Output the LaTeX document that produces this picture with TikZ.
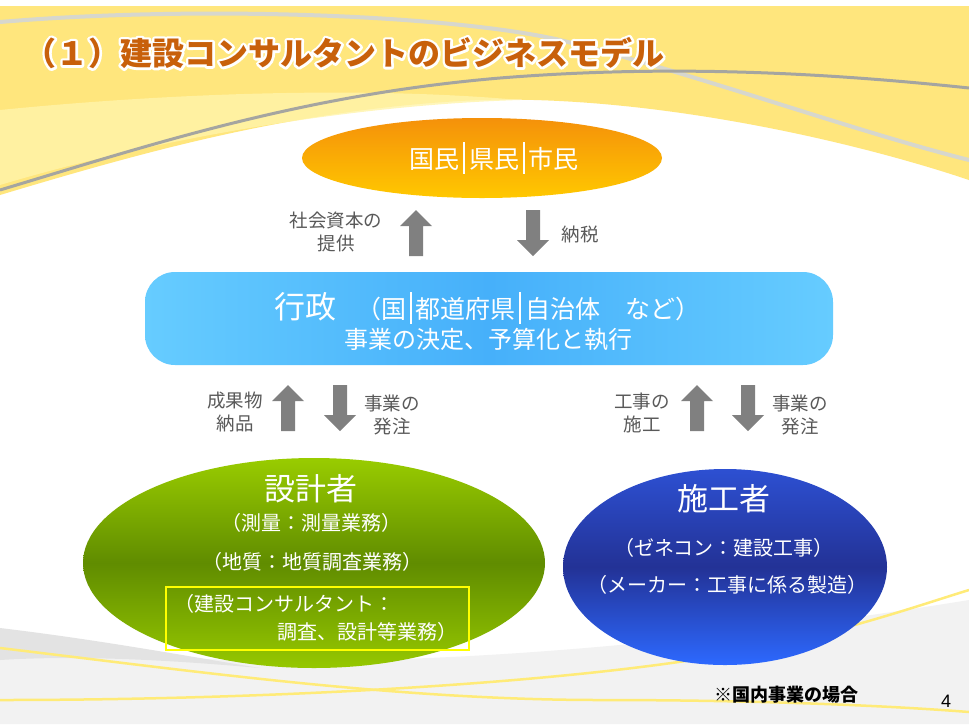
\documentclass[tikz,border=0pt]{standalone}
\usepackage{fontspec}
\setmainfont{Noto Sans CJK JP}
\newfontfamily\numfont{Liberation Sans}
\usetikzlibrary{shapes.geometric}
\definecolor{titlec}{RGB}{200,96,10}
\definecolor{bgyellow}{RGB}{255,230,125}
\definecolor{bgyellow2}{RGB}{255,244,170}
\definecolor{lineA}{RGB}{165,165,160}
\definecolor{lineB}{RGB}{215,215,205}
\definecolor{arrowgray}{RGB}{128,128,128}
\definecolor{labelgray}{RGB}{89,89,89}
\definecolor{orTop}{RGB}{245,145,10}
\definecolor{orBot}{RGB}{255,200,0}
\definecolor{bxEdge}{RGB}{102,204,255}
\definecolor{bxMid}{RGB}{70,176,250}
\definecolor{grTop}{RGB}{153,204,0}
\definecolor{grMid}{RGB}{96,140,0}
\definecolor{grBot}{RGB}{150,200,0}
\definecolor{blTop}{RGB}{45,80,210}
\definecolor{blMid}{RGB}{35,50,150}
\definecolor{blBot}{RGB}{45,105,255}
\definecolor{ylwbox}{RGB}{255,255,0}
\definecolor{botline}{RGB}{255,235,120}
\newcommand\fsz[1]{\fontsize{#1}{#1}\selectfont}
\newcommand\vbar{\hspace{0.15em}\rule[-0.2em]{0.08em}{1.25em}\hspace{0.15em}}
\newcommand\haloon{\special{pdf:literal direct 1 Tr 5 w 1 1 1 RG 1 j 1 J}}
\newcommand\halooff{\special{pdf:literal direct 0 Tr}}
\tikzset{
  whitetxt/.style={text=white, inner sep=0pt, align=center},
  lbl/.style={text=labelgray, inner sep=0pt, align=center, font=\fsz{18.5}, execute at begin node=\setlength{\baselineskip}{23pt}},
  titletxt/.style={anchor=west, inner sep=0pt, font=\fsz{32}\bfseries},
  pics/blockup/.style={code={\fill[arrowgray] (-7,23) -- (-7,-7) -- (-16,-7) -- (0,-23) -- (16,-7) -- (7,-7) -- (7,23) -- cycle;}},
  pics/blockdown/.style={code={\fill[arrowgray] (-7,-23) -- (-7,7) -- (-16,7) -- (0,23) -- (16,7) -- (7,7) -- (7,-23) -- cycle;}}
}
\begin{document}
\begin{tikzpicture}[x=1pt,y=-1pt]
\useasboundingbox (0,0) rectangle (969,724);
\fill[white] (0,0) rectangle (969,724);
% top yellow band
\fill[bgyellow] (0,6) -- (969,6) -- (969,180) .. controls (850,140) and (650,95) .. (480,100) .. controls (300,108) and (150,150) .. (0,195) -- cycle;
\fill[bgyellow2, opacity=0.8] (0,110) .. controls (150,95) and (350,85) .. (520,100) .. controls (350,105) and (150,140) .. (0,185) -- cycle;
\draw[lineB, line width=4pt, line cap=round] (0,22) .. controls (200,5) and (450,15) .. (560,40) .. controls (700,75) and (850,130) .. (969,160);
\draw[lineA, line width=3pt] (0,190) .. controls (150,145) and (300,95) .. (500,78) .. controls (650,66) and (800,70) .. (969,88);
% bottom decoration
\fill[gray!10] (0,640) .. controls (250,680) and (600,660) .. (969,600) -- (969,724) -- (0,724) -- cycle;
\fill[gray!22] (0,628) .. controls (100,640) and (180,655) .. (260,668) .. controls (170,660) and (80,655) .. (0,660) -- cycle;
\draw[botline, line width=2.5pt] (0,648) .. controls (200,672) and (400,700) .. (600,700) .. controls (750,700) and (880,705) .. (969,712);
\draw[botline, line width=2.5pt] (0,700) .. controls (300,700) and (600,680) .. (750,650) .. controls (850,630) and (920,605) .. (969,590);
% title
\node[titletxt, text=white] (titlehalo) at (24,53) {\haloon（１）建設コンサルタントのビジネスモデル\halooff};
\node[titletxt, text=titlec] (title) at (24,53) {（１）建設コンサルタントのビジネスモデル};
% citizens
\node[ellipse, minimum width=360pt, minimum height=80pt, inner sep=0pt, top color=orTop, bottom color=orBot] (cit) at (482,158) {};
\node[whitetxt, font=\fsz{25}] (citt) at (494,158) {国民\vbar 県民\vbar 市民};
% upper arrows
\pic (a1) at (416,233) {blockup};
\pic (a2) at (533,233) {blockdown};
\node[lbl] (l1) at (336,232) {社会資本の\\提供};
\node[lbl] (l2) at (580,234) {納税};
% government box
\path[rounded corners=30pt, left color=bxEdge, right color=bxEdge, middle color=bxMid] (145,272) rectangle (833,365);
\node[inner sep=0pt] (gov) at (489,318) {};
\node[whitetxt, font=\fsz{31}] (govt) at (305,307) {行政};
\node[whitetxt, font=\fsz{25}] (govs) at (528,308) {（国\vbar 都道府県\vbar 自治体　など）};
\node[whitetxt, font=\fsz{24}] (govd) at (488,340) {事業の決定、予算化と執行};
% lower arrows
\pic (a3) at (288,408) {blockup};
\pic (a4) at (340,408) {blockdown};
\pic (a5) at (697,408) {blockup};
\pic (a6) at (748,408) {blockdown};
\node[lbl] (l3) at (235,412) {成果物\\納品};
\node[lbl] (l4) at (392,415) {事業の\\発注};
\node[lbl] (l5) at (642,413) {工事の\\施工};
\node[lbl] (l6) at (800,415) {事業の\\発注};
% designers
\node[ellipse, minimum width=462pt, minimum height=210pt, inner sep=0pt, top color=grTop, bottom color=grBot, middle color=grMid] (des) at (314,563) {};
\node[whitetxt, font=\fsz{31}] (dest) at (311,489) {設計者};
\node[whitetxt, font=\fsz{20}] (des1) at (311,523) {（測量：測量業務）};
\node[whitetxt, font=\fsz{20}] (des2) at (312,562) {（地質：地質調査業務）};
\draw[ylwbox, line width=2pt] (166,587) rectangle (469,650);
\node[whitetxt, font=\fsz{20}, anchor=west] (des3) at (174,604) {（建設コンサルタント：};
\node[whitetxt, font=\fsz{20}, anchor=east] (des4) at (458,632) {調査、設計等業務）};
% builders
\node[ellipse, minimum width=324pt, minimum height=196pt, inner sep=0pt, top color=blTop, bottom color=blBot, middle color=blMid] (bld) at (725,567) {};
\node[whitetxt, font=\fsz{31}] (bldt) at (724,499) {施工者};
\node[whitetxt, font=\fsz{20}] (bld1) at (724,548) {（ゼネコン：建設工事）};
\node[whitetxt, font=\fsz{20}] (bld2) at (727,585) {（メーカー：工事に係る製造）};
% footer
\node[inner sep=0pt, font=\fsz{18}\bfseries] (note) at (786,695) {※国内事業の場合};
\node[inner sep=0pt, font=\numfont\fsz{18}] (pg) at (946,701) {4};
\end{tikzpicture}
\end{document}
